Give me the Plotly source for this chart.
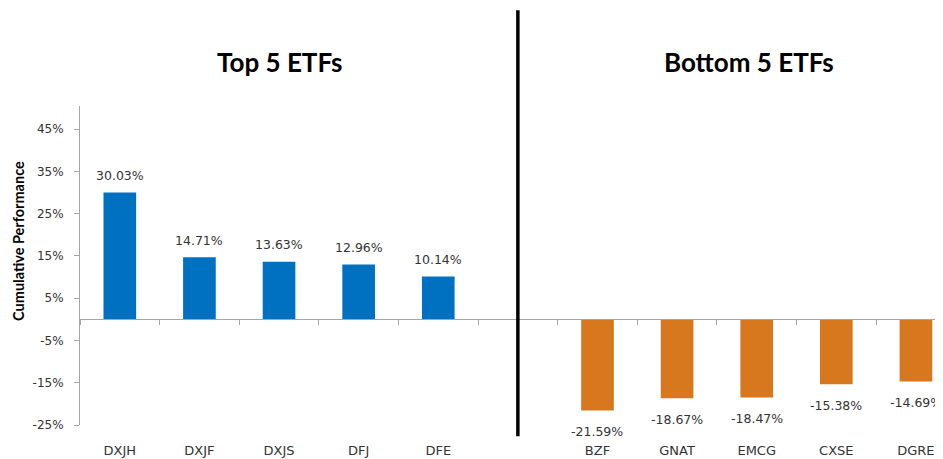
import plotly.graph_objects as go

top_tickers = ["DXJH", "DXJF", "DXJS", "DFJ", "DFE"]
top_values = [30.03, 14.71, 13.63, 12.96, 10.14]
bottom_tickers = ["BZF", "GNAT", "EMCG", "CXSE", "DGRE"]
bottom_values = [-21.59, -18.67, -18.47, -15.38, -14.69]
gap = [" "]
categories = top_tickers + gap + bottom_tickers
y_ticks = [-25, -15, -5, 5, 15, 25, 35, 45]
y_tick_labels = [f"{v}%" for v in y_ticks]

BLUE = "#0070C0"
ORANGE = "#D7781E"
GRAY = "#A6A6A6"
TXT = "#333333"

y_min, y_max = -25, 50.5
zero_frac = (0 - y_min) / (y_max - y_min)

fig = go.Figure()
fig.add_trace(go.Bar(x=top_tickers, y=top_values, marker=dict(color=BLUE, line=dict(width=0)),
                     width=0.41, showlegend=False, hoverinfo="x+y"))
fig.add_trace(go.Bar(x=bottom_tickers, y=bottom_values, marker=dict(color=ORANGE, line=dict(width=0)),
                     width=0.41, showlegend=False, hoverinfo="x+y"))
# invisible trace to carry the zero-line axis
fig.add_trace(go.Scatter(x=categories, y=[None] * len(categories), xaxis="x2",
                         mode="markers", showlegend=False, hoverinfo="skip"))

annotations = []
for t, v in zip(top_tickers, top_values):
    annotations.append(dict(x=t, y=v, xref="x", yref="y", text=f"{v:.2f}%", showarrow=False,
                            xanchor="center", yanchor="middle",
                            yshift=17, font=dict(family="DejaVu Sans", size=12.5, color=TXT)))
for t, v in zip(bottom_tickers, bottom_values):
    annotations.append(dict(x=t, y=v, xref="x", yref="y", text=f"{v:.2f}%", showarrow=False,
                            xanchor="center", yanchor="middle",
                            yshift=-21, font=dict(family="DejaVu Sans", size=12.5, color=TXT)))
annotations.append(dict(x=2, y=1.138, xref="x", yref="paper", text="<b>Top 5 ETFs</b>", showarrow=False,
                        xanchor="center", yanchor="middle",
                        font=dict(family="Lato", size=26, color="black")))
annotations.append(dict(x=7.9, y=1.138, xref="x", yref="paper", text="<b>Bottom 5 ETFs</b>", showarrow=False,
                        xanchor="center", yanchor="middle",
                        font=dict(family="Lato", size=26, color="black")))
annotations.append(dict(x=0, y=0.577, xref="paper", yref="paper", xshift=-61,
                        text="<b>Cumulative Performance</b>", textangle=-90, showarrow=False,
                        xanchor="center", yanchor="middle",
                        font=dict(family="Lato", size=14.5, color="black")))

fig.update_layout(
    width=935, height=451,
    margin=dict(l=72, r=0, t=98, b=34),
    paper_bgcolor="white", plot_bgcolor="white",
    xaxis=dict(type="category", categoryorder="array", categoryarray=categories,
               range=[-0.5, 10.34], showline=False, showgrid=False, zeroline=False,
               ticks="", ticklabelstandoff=16,
               tickfont=dict(family="DejaVu Sans", size=13, color=TXT)),
    xaxis2=dict(type="category", categoryorder="array", categoryarray=categories,
                overlaying="x", matches="x", anchor="free", position=zero_frac,
                showline=True, linecolor=GRAY, linewidth=1, showgrid=False, zeroline=False,
                ticks="outside", tickson="boundaries", ticklen=5, tickcolor=GRAY,
                showticklabels=False),
    yaxis=dict(range=[y_min, y_max], tickvals=y_ticks, ticktext=y_tick_labels,
               showline=True, linecolor=GRAY, linewidth=1, showgrid=False, zeroline=False,
               ticks="outside", ticklen=5, tickcolor=GRAY, ticklabelstandoff=8,
               tickfont=dict(family="DejaVu Sans", size=12, color=TXT)),
    annotations=annotations,
    shapes=[dict(type="line", xref="x", yref="paper", x0=5, x1=5, y0=-0.035, y1=1.30,
                 line=dict(color="black", width=3.5))],
)

fig.write_html("out.html")
